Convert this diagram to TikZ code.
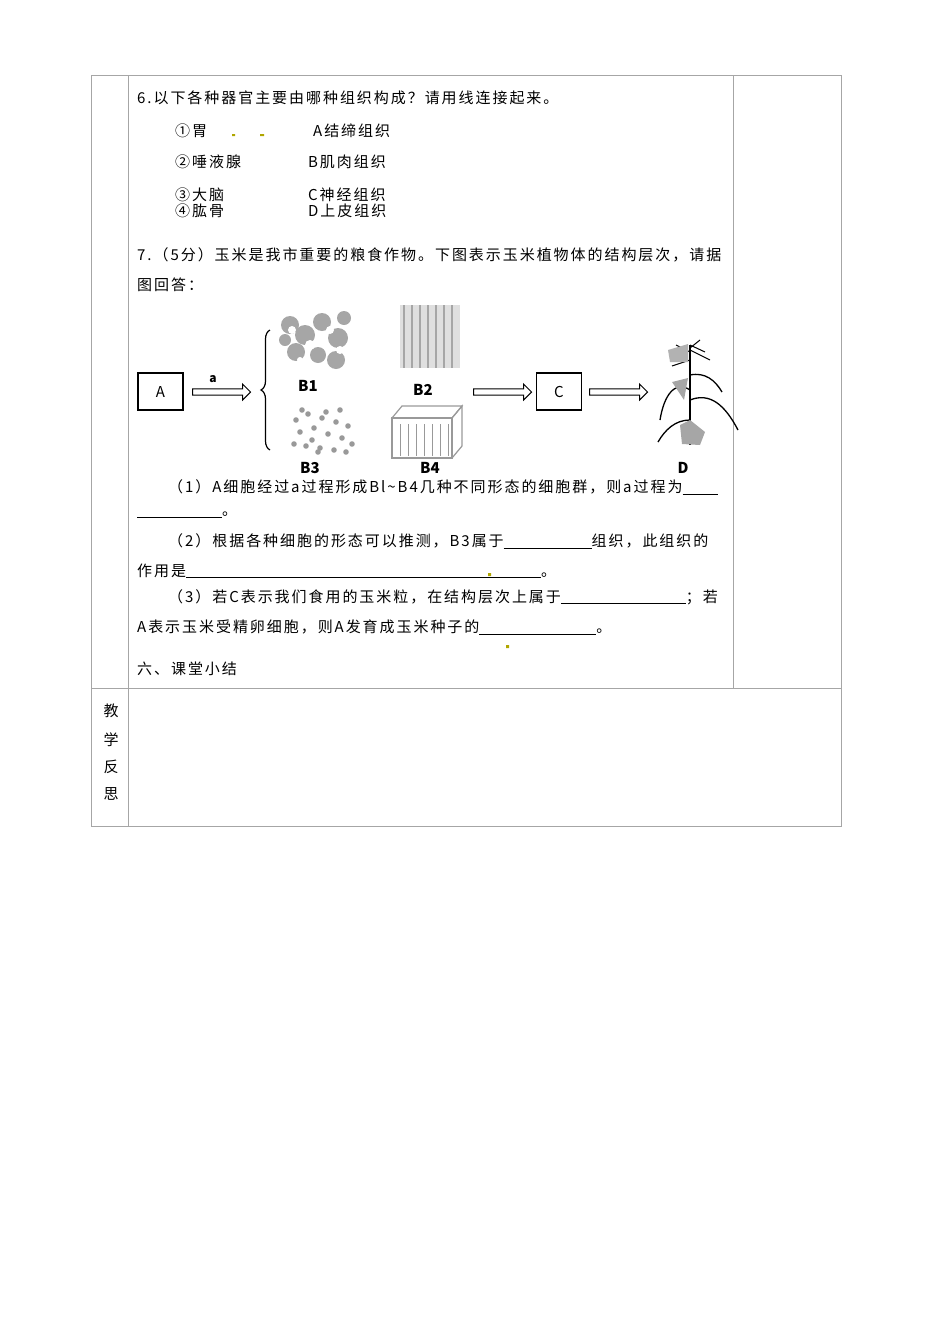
\documentclass[tikz,border=0pt]{standalone}
\usepackage{fontspec}
\setmainfont{Noto Sans CJK SC}[LetterSpace=13]
\newfontfamily\lblfont{Noto Sans CJK SC}
\usetikzlibrary{shapes.arrows,decorations.pathreplacing}
\begin{document}
\begin{tikzpicture}[x=1pt,y=-1pt,
  txt/.style={anchor=west,inner sep=0pt,font=\fontsize{15}{17}\selectfont},
  lbl/.style={inner sep=0pt,font=\lblfont\fontsize{15}{16}\selectfont\bfseries},
  bx/.style={draw,line width=1.2pt,minimum width=45pt,minimum height=37pt,font=\fontsize{15}{16}\selectfont},
  barrow/.style={single arrow,draw,line width=1pt,minimum height=58pt,single arrow head extend=4pt,inner sep=2pt,minimum width=16pt},
  grid/.style={draw=gray!70,line width=0.8pt}]
\useasboundingbox (0,0) rectangle (950,1344);
% table
\draw[grid] (91,75) rectangle (841,826);
\draw[grid] (128,75) -- (128,826);
\draw[grid] (733,75) -- (733,688);
\draw[grid] (91,688) -- (841,688);
% texts
\node[txt] (t6) at (137,98) {6.以下各种器官主要由哪种组织构成？请用线连接起来。};
\node[txt] (o1) at (175,131) {①胃};
\node[txt] (o2) at (175,162) {②唾液腺};
\node[txt] (o3) at (175,195) {③大脑};
\node[txt] (o4) at (175,211) {④肱骨};
\node[txt] (k1) at (313,131) {A结缔组织};
\node[txt] (k2) at (308,162) {B肌肉组织};
\node[txt] (k3) at (308,195) {C神经组织};
\node[txt] (k4) at (308,211) {D上皮组织};
\fill[olive!70!yellow] (232,134) rectangle (235,136) (260,134) rectangle (264,136);
\node[txt] (t7) at (137,255) {7.（5分）玉米是我市重要的粮食作物。下图表示玉米植物体的结构层次，请据};
\node[txt] (t7b) at (137,285) {图回答：};
% diagram
\node[bx] (A) at (160.5,391.5) {A};
\node[bx] (C) at (559,391.5) {C};
\node[barrow] (ar1) at (220,392) {};
\node[lbl,font=\lblfont\fontsize{12}{14}\selectfont\bfseries] (la) at (213,379) {a};
\draw[line width=1.2pt,decorate,decoration={brace,amplitude=9pt,mirror}] (270,330) -- (270,450);
\node[barrow] (ar2) at (501,392) {};
\node[barrow] (ar3) at (617,392) {};
% B1 blobs
\foreach \x/\y/\r in {290/325/9,305/335/10,322/322/9,338/338/10,296/352/9,318/355/8,336/360/9,285/340/6,344/318/7}
  \fill[gray!70] (\x,\y) circle (\r);
\foreach \x/\y/\r in {292/330/4,310/345/5,330/330/4,300/360/3,340/350/4}
  \fill[white] (\x,\y) circle (\r);
\node[lbl] (B1) at (308,386) {B1};
% B2 stripes
\fill[gray!25] (400,305) rectangle (460,368);
\foreach \x in {404,412,420,428,436,444,452}
  \draw[gray!70,line width=1.5pt] (\x,305) -- (\x,368);
\node[lbl] (B2) at (423,390) {B2};
% B3 dots
\foreach \x/\y in {296/420,308/414,322/418,336/422,348/426,300/432,314/428,328/434,342/438,352/444,294/444,306/446,320/448,334/450,312/440,326/412,340/410,302/410,318/452,346/452}
  \fill[gray!80] (\x,\y) circle (2.8);
\node[lbl] (B3) at (310,468) {B3};
% B4 box
\draw[gray!80,line width=1.2pt] (392,418) -- (402,406) -- (462,406) -- (452,418) -- cycle;
\draw[gray!80,line width=1.2pt] (392,418) rectangle (452,458);
\draw[gray!80,line width=1.2pt] (452,418) -- (462,406) -- (462,446) -- (452,458);
\foreach \x in {400,408,416,424,432,440,448}
  \draw[gray!80,line width=1pt] (\x,424) -- (\x,456);
\node[lbl] (B4) at (430,468) {B4};
% D plant
\draw[line width=1.6pt] (690,345) -- (690,445);
\draw[line width=1pt] (690,345) -- (705,352) (690,350) -- (710,360) (690,352) -- (676,345) (690,360) -- (672,366) (690,348) -- (700,340);
\fill[gray!60] (668,350) -- (688,344) -- (688,362) -- (670,362) -- cycle;
\draw[line width=1.3pt] (690,390) .. controls (675,380) and (664,395) .. (660,420);
\draw[line width=1.3pt] (690,400) .. controls (710,392) and (725,405) .. (738,430);
\draw[line width=1.3pt] (690,420) .. controls (675,420) and (665,430) .. (658,442);
\draw[line width=1.3pt] (690,375) .. controls (705,372) and (715,380) .. (722,392);
\fill[gray!70] (680,425) -- (690,420) -- (705,432) -- (700,445) -- (682,444) -- cycle;
\fill[gray!70] (672,382) -- (688,378) -- (684,400) -- cycle;
\node[lbl] (D) at (683,468) {D};
% questions
\node[txt] (q1) at (168,487) {（1）A细胞经过a过程形成Bl\textasciitilde B4几种不同形态的细胞群，则a过程为\underline{\hspace{35pt}}};
\node[txt] (q1b) at (137,515) {\underline{\hspace{85pt}}。};
\node[txt] (q2) at (168,541) {（2）根据各种细胞的形态可以推测，B3属于\underline{\hspace{88pt}}组织，此组织的};
\node[txt] (q2b) at (137,571) {作用是\underline{\hspace{355pt}}。};
\node[txt] (q3) at (168,597) {（3）若C表示我们食用的玉米粒，在结构层次上属于\underline{\hspace{125pt}}；若};
\node[txt] (q3b) at (137,627) {A表示玉米受精卵细胞，则A发育成玉米种子的\underline{\hspace{117pt}}。};
\fill[olive!70!yellow] (488,573) rectangle (491,576) (506,645) rectangle (509,648);
\node[txt] (s6) at (137,669) {六、课堂小结};
\node[txt,anchor=center] (r1) at (111,711) {教};
\node[txt,anchor=center] (r2) at (111,740) {学};
\node[txt,anchor=center] (r3) at (111,767) {反};
\node[txt,anchor=center] (r4) at (111,794) {思};
\end{tikzpicture}
\end{document}
